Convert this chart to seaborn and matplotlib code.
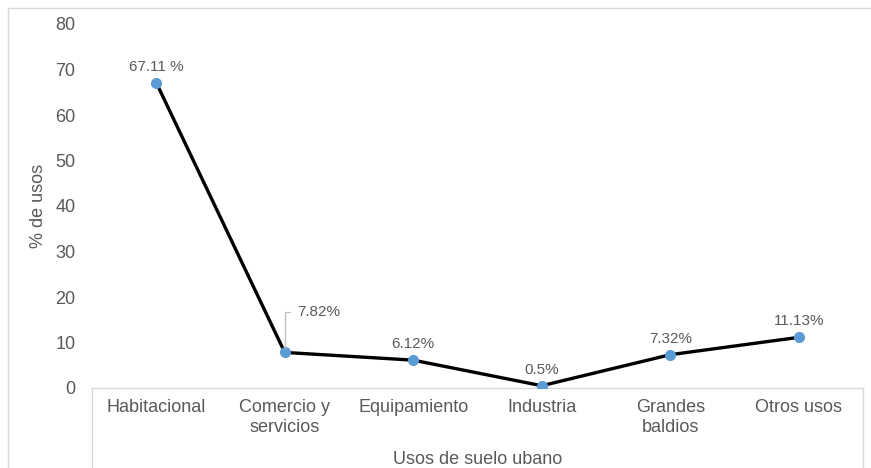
import matplotlib
matplotlib.use("Agg")
import matplotlib.pyplot as plt
from matplotlib.lines import Line2D
import seaborn as sns
import pandas as pd

categorias = ["Habitacional", "Comercio y\nservicios", "Equipamiento", "Industria",
              "Grandes\nbaldios", "Otros usos"]
porcentajes = [67.11, 7.82, 6.12, 0.5, 7.32, 11.13]
etiquetas = ["67.11 %", "7.82%", "6.12%", "0.5%", "7.32%", "11.13%"]
y_ticks = [0, 10, 20, 30, 40, 50, 60, 70, 80]

sns.set_theme(style="white")
plt.rcParams["font.family"] = ["Liberation Sans", "DejaVu Sans"]

GRIS = "#595959"
BORDE = "#D9D9D9"
AZUL = "#5B9BD5"

df = pd.DataFrame({"pos": range(len(categorias)), "valor": porcentajes})

W, H = 871, 468
fig = plt.figure(figsize=(W / 100, H / 100), dpi=100)
ax = fig.add_axes([92 / W, 1 - 388 / H, (863 - 92) / W, (388 - 24) / H])

sns.lineplot(data=df, x="pos", y="valor", ax=ax, color="black", linewidth=2.4,
             marker="o", markersize=8, markerfacecolor=AZUL, markeredgecolor=AZUL,
             markeredgewidth=0, zorder=3)

ax.set_xlim(-0.5, len(categorias) - 0.5)
ax.set_ylim(0, 80)
ax.set_yticks(y_ticks)
ax.set_yticklabels([str(v) for v in y_ticks])
ax.set_xticks(range(len(categorias)))
ax.set_xticklabels(categorias, linespacing=1.2)
ax.tick_params(axis="y", length=0, pad=12, labelsize=13, labelcolor=GRIS)
ax.tick_params(axis="x", length=0, pad=8, labelsize=13, labelcolor=GRIS)

for s in ["top", "right", "left"]:
    ax.spines[s].set_visible(False)
ax.spines["bottom"].set_color(BORDE)
ax.spines["bottom"].set_linewidth(1.0)

ax.set_xlabel("Usos de suelo ubano", fontsize=13, color=GRIS, labelpad=11)
ax.set_ylabel("% de usos", fontsize=13, color=GRIS, labelpad=6)

for i, (v, t) in enumerate(zip(porcentajes, etiquetas)):
    if i == 1:
        ax.annotate(t, xy=(i, v), xytext=(9, 29), textcoords="offset points",
                    ha="left", va="center", fontsize=11, color=GRIS,
                    arrowprops=dict(arrowstyle="-", color="#BFBFBF", lw=0.9,
                                    connectionstyle="angle,angleA=0,angleB=90,rad=0",
                                    shrinkA=3, shrinkB=3))
    else:
        ax.annotate(t, xy=(i, v), xytext=(0, 11.5), textcoords="offset points",
                    ha="center", va="center", fontsize=11, color=GRIS)

# chart frame and category box lines
fig.add_artist(Line2D([8 / W, 1], [1 - 8 / H] * 2, color=BORDE, lw=1.0))
fig.add_artist(Line2D([8 / W] * 2, [1 - 8 / H, 0], color=BORDE, lw=1.0))
fig.add_artist(Line2D([92 / W] * 2, [1 - 388 / H, 0], color=BORDE, lw=1.0))
fig.add_artist(Line2D([863 / W] * 2, [1 - 388 / H, 0], color=BORDE, lw=1.0))

fig.savefig("out.png", dpi=100, facecolor="white")
